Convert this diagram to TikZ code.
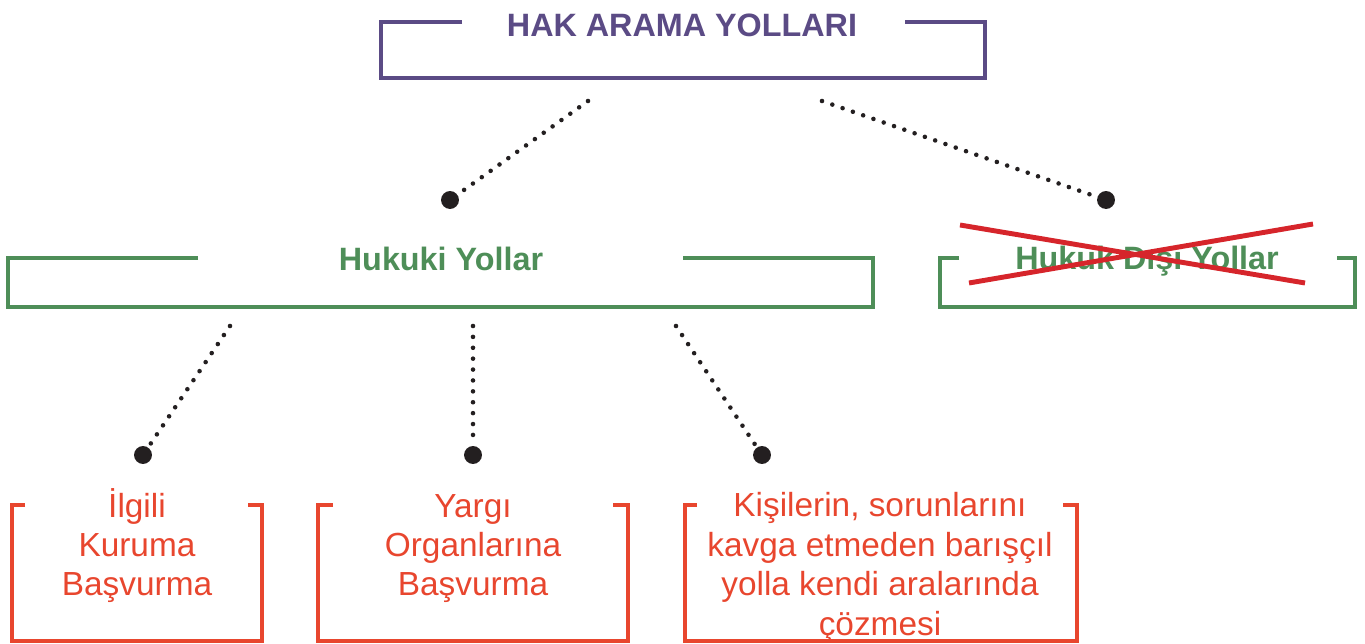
\documentclass[tikz,border=0pt]{standalone}
\usepackage{fontspec}
\setmainfont{Liberation Sans}
\definecolor{hakpurple}{HTML}{5B4B85}
\definecolor{hukukgreen}{HTML}{4E8E58}
\definecolor{basvurured}{HTML}{E8462E}
\definecolor{crossred}{HTML}{D6252B}
\definecolor{dotblack}{HTML}{231F20}

\begin{document}
\begin{tikzpicture}[x=0.02cm,y=-0.02cm,
  bracketline/.style={line width=2.2pt},
  headtext/.style={anchor=base,font=\bfseries\fontsize{18.4}{22}\selectfont},
  leaf/.style={anchor=base,align=center,text=basvurured,font=\fontsize{19}{22.4}\selectfont},
  bigdot/.style={circle,fill=dotblack,inner sep=0pt,minimum size=10.2pt},
  dotline/.style={dotblack,line width=2.6pt,line cap=round,dash pattern=on 0pt off 6.2pt}]

    \useasboundingbox (0,0) rectangle (1365,644);

    \node[headtext,text=hakpurple] (hak) at (682,37) {HAK ARAMA YOLLARI};
    \draw[bracketline,hakpurple] (462,22) -- (381,22) -- (381,78) -- (985,78) -- (985,22) -- (905,22);

    \node[headtext,text=hukukgreen] (hukuki) at (441,271) {Hukuki Yollar};
    \draw[bracketline,hukukgreen] (198,258) -- (8,258) -- (8,307) -- (873,307) -- (873,258) -- (683,258);

    \node[headtext,text=hukukgreen] (disi) at (1147,270) {Hukuk Dışı Yollar};
    \draw[bracketline,hukukgreen] (959,258) -- (940,258) -- (940,307) -- (1355,307) -- (1355,258) -- (1337,258);
    \draw[crossred,line width=2.8pt] (960,225) -- (1305,283) (969,283) -- (1313,224);

    % leaf nodes: anchor base sits on the last line
    \node[leaf] (kurum) at (137,596) {İlgili\\Kuruma\\Başvurma};
    \draw[bracketline,basvurured] (25,505) -- (12,505) -- (12,641) -- (262,641) -- (262,505) -- (248,505);

    \node[leaf] (yargi) at (473,596) {Yargı\\Organlarına\\Başvurma};
    \draw[bracketline,basvurured] (333,505) -- (318,505) -- (318,641) -- (628,641) -- (628,505) -- (613,505);

    \node[leaf] (baris) at (880,635) {Kişilerin, sorunlarını\\kavga etmeden barışçıl\\yolla kendi aralarında\\çözmesi};
    \draw[bracketline,basvurured] (697,505) -- (685,505) -- (685,641) -- (1077,641) -- (1077,505) -- (1063,505);

    \coordinate (hak-l) at (588,101);
    \coordinate (hak-r) at (822,101);
    \coordinate (hukuki-l) at (230,326);
    \coordinate (hukuki-m) at (473,326);
    \coordinate (hukuki-r) at (676,326);
    \node[bigdot] (hukuki-dot) at (450,200) {};
    \node[bigdot] (disi-dot) at (1106,200) {};
    \node[bigdot] (kurum-dot) at (143,455) {};
    \node[bigdot] (yargi-dot) at (473,455) {};
    \node[bigdot] (baris-dot) at (762,455) {};

    \path[dotline]
        (hak-l) edge (hukuki-dot)
        (hak-r) edge (disi-dot)
        (hukuki-l) edge (kurum-dot)
        (hukuki-m) edge (yargi-dot)
        (hukuki-r) edge (baris-dot)
        ;
\end{tikzpicture}
\end{document}
